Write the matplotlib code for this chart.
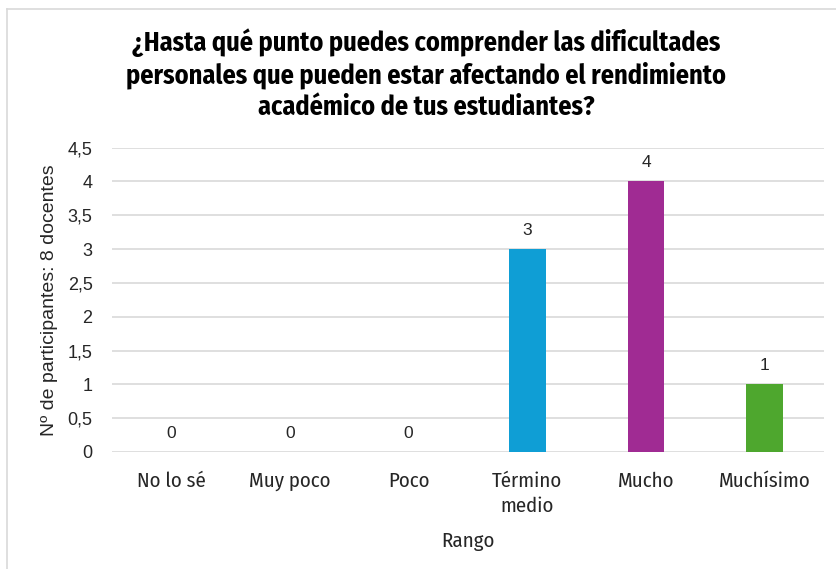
import matplotlib
matplotlib.use("Agg")
import matplotlib.pyplot as plt
from matplotlib.lines import Line2D
from matplotlib.ticker import FuncFormatter, MultipleLocator

categorias = ["No lo sé", "Muy poco", "Poco", "Término\nmedio", "Mucho", "Muchísimo"]
docentes = [0, 0, 0, 3, 4, 1]
colores = ["#0F9ED5", "#0F9ED5", "#0F9ED5", "#0F9ED5", "#A02B93", "#4EA72E"]

titulo = ("¿Hasta qué punto puedes comprender las dificultades\n"
          "personales que pueden estar afectando el rendimiento\n"
          "académico de tus estudiantes?")

narrow = ["Fira Sans Condensed", "DejaVu Sans"]
arial = ["Liberation Sans", "DejaVu Sans"]

fig = plt.figure(figsize=(8.36, 5.69), dpi=100)
ax = fig.add_axes([112 / 836, 1 - 452 / 569, 712 / 836, (452 - 147.6) / 569])

x = range(len(categorias))
ax.bar(x, docentes, width=0.31, color=colores, zorder=3)
for xi, v in zip(x, docentes):
    ax.text(xi, v + 0.17, str(v), ha="center", va="bottom",
            fontsize=12.5, family=arial, color="#262626")

ax.set_xlim(-0.5, len(categorias) - 0.5)
ax.set_ylim(0, 4.5)
ax.yaxis.set_major_locator(MultipleLocator(0.5))
ax.yaxis.set_major_formatter(FuncFormatter(lambda v, p: f"{v:g}".replace(".", ",")))
ax.grid(axis="y", color="#D9D9D9", linewidth=1.2, zorder=0)
for s in ax.spines.values():
    s.set_visible(False)
ax.tick_params(length=0)
ax.tick_params(axis="y", pad=14, labelsize=13, labelcolor="#262626")
ax.tick_params(axis="x", pad=14, labelsize=15, labelcolor="#262626")
for t in ax.get_yticklabels():
    t.set_family(arial)
ax.set_xticks(list(x))
ax.set_xticklabels(categorias, family=narrow, linespacing=1.35)

ax.set_xlabel("Rango", family=narrow, fontsize=15, color="#262626", labelpad=11)
ax.set_ylabel("Nº de participantes: 8 docentes", family=arial, fontsize=14,
              color="#262626", labelpad=7)

fig.text(0.51, 1 - 74 / 569, titulo, ha="center", va="center",
         family=narrow, fontsize=18.9, fontweight="bold", linespacing=1.22,
         color="black")

# marco del gráfico (bordes izquierdo y superior)
fig.add_artist(Line2D([7 / 836, 7 / 836], [0, 1 - 9 / 569], transform=fig.transFigure,
                      color="#D9D9D9", linewidth=1.2))
fig.add_artist(Line2D([7 / 836, 1], [1 - 9 / 569, 1 - 9 / 569], transform=fig.transFigure,
                      color="#D9D9D9", linewidth=1.2))

fig.savefig("out.png", dpi=100)
